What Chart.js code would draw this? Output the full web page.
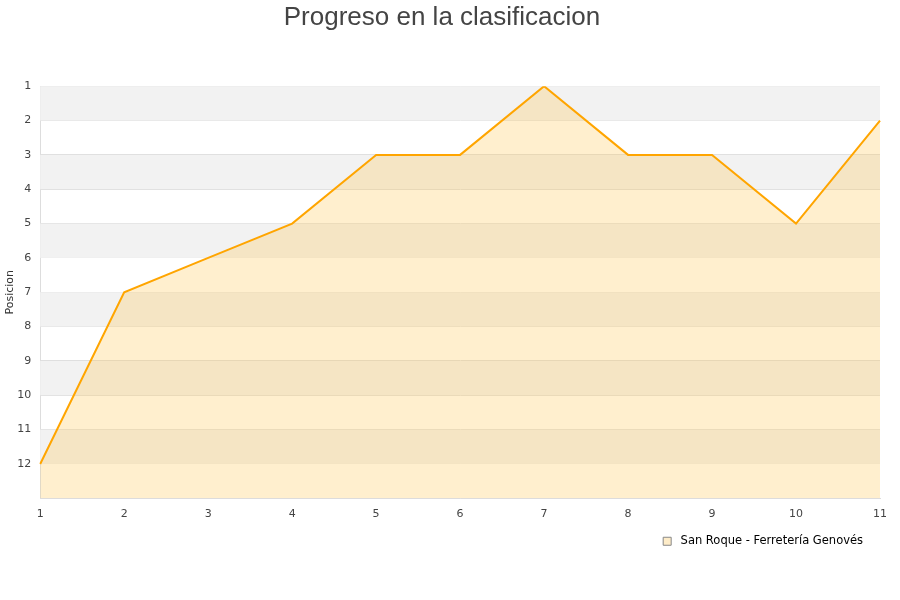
<!DOCTYPE html>
<html>
<head>
<meta charset="utf-8">
<script src="https://cdn.jsdelivr.net/npm/chart.js@4"></script>
<style>
    body { margin: 0; background: #fff; }
    #wrap { width: 900px; height: 600px; }
</style>
</head>
<body>
<div id="wrap"><canvas id="myChart"></canvas></div>
<script>
var jornadas = ['1', '2', '3', '4', '5', '6', '7', '8', '9', '10', '11'];
var posiciones = [12, 7, 6, 5, 3, 3, 1, 3, 3, 5, 2];
var equipo = 'San Roque - Ferretería Genovés';

// grey stripes every other row, drawn under the line
var bandas = {
    id: 'bandas',
    beforeDatasetsDraw: function (chart) {
        var ctx = chart.ctx;
        var area = chart.chartArea;
        var y = chart.scales.y;
        ctx.save();
        ctx.fillStyle = '#f2f2f2';
        for (var v = 1; v < 13; v += 2) {
            var top = y.getPixelForValue(v);
            var bottom = y.getPixelForValue(v + 1);
            ctx.fillRect(area.left, top, area.right - area.left, bottom - top);
        }
        ctx.restore();
    }
};

var ctx = document.getElementById('myChart').getContext('2d');

new Chart(ctx, {
    type: 'line',
    data: {
        labels: jornadas,
        datasets: [{
            label: equipo,
            data: posiciones,
            borderColor: '#ffa500',
            backgroundColor: 'rgba(255, 190, 60, 0.25)',
            borderWidth: 2,
            fill: { value: 13 },
            pointRadius: 0,
            tension: 0
        }]
    },
    options: {
        responsive: true,
        maintainAspectRatio: false,
        animation: false,
        layout: {
            padding: { left: 4, right: 20, top: 2, bottom: 43 }
        },
        scales: {
            x: {
                offset: false,
                grid: { display: false, drawTicks: false },
                border: { color: '#dddddd' },
                ticks: {
                    color: '#444',
                    font: { family: 'DejaVu Sans', size: 11 },
                    padding: 9,
                    maxRotation: 0
                }
            },
            y: {
                reverse: true,
                min: 1,
                max: 13,
                grid: { color: '#dddddd', drawTicks: false },
                border: { color: '#dddddd' },
                ticks: {
                    stepSize: 1,
                    color: '#444',
                    font: { family: 'DejaVu Sans', size: 11 },
                    padding: 9,
                    callback: function (v) { return v === 13 ? '' : v; }
                },
                title: {
                    display: true,
                    text: 'Posicion',
                    color: '#333',
                    font: { family: 'DejaVu Sans', size: 11 },
                    padding: { top: 0, bottom: -9 }
                }
            }
        },
        plugins: {
            title: {
                display: true,
                text: 'Progreso en la clasificacion',
                color: '#444',
                font: { family: 'Liberation Sans', size: 26, weight: 'normal' },
                padding: { top: 0, bottom: 53 }
            },
            legend: {
                position: 'bottom',
                align: 'end',
                labels: {
                    color: '#000',
                    boxWidth: 8,
                    boxHeight: 8,
                    font: { family: 'DejaVu Sans', size: 11.5 },
                    padding: 6,
                    generateLabels: function (chart) {
                        return chart.data.datasets.map(function (ds, i) {
                            return {
                                // nbsp pads the gap to the box and the right margin
                                text: '\u00a0' + ds.label + '\u00a0\u00a0\u00a0',
                                fillStyle: '#feecc8',
                                strokeStyle: '#888',
                                lineWidth: 1,
                                fontColor: '#000',
                                datasetIndex: i
                            };
                        });
                    }
                }
            },
            tooltip: { enabled: false }
        }
    },
    plugins: [bandas]
});
</script>
</body>
</html>
